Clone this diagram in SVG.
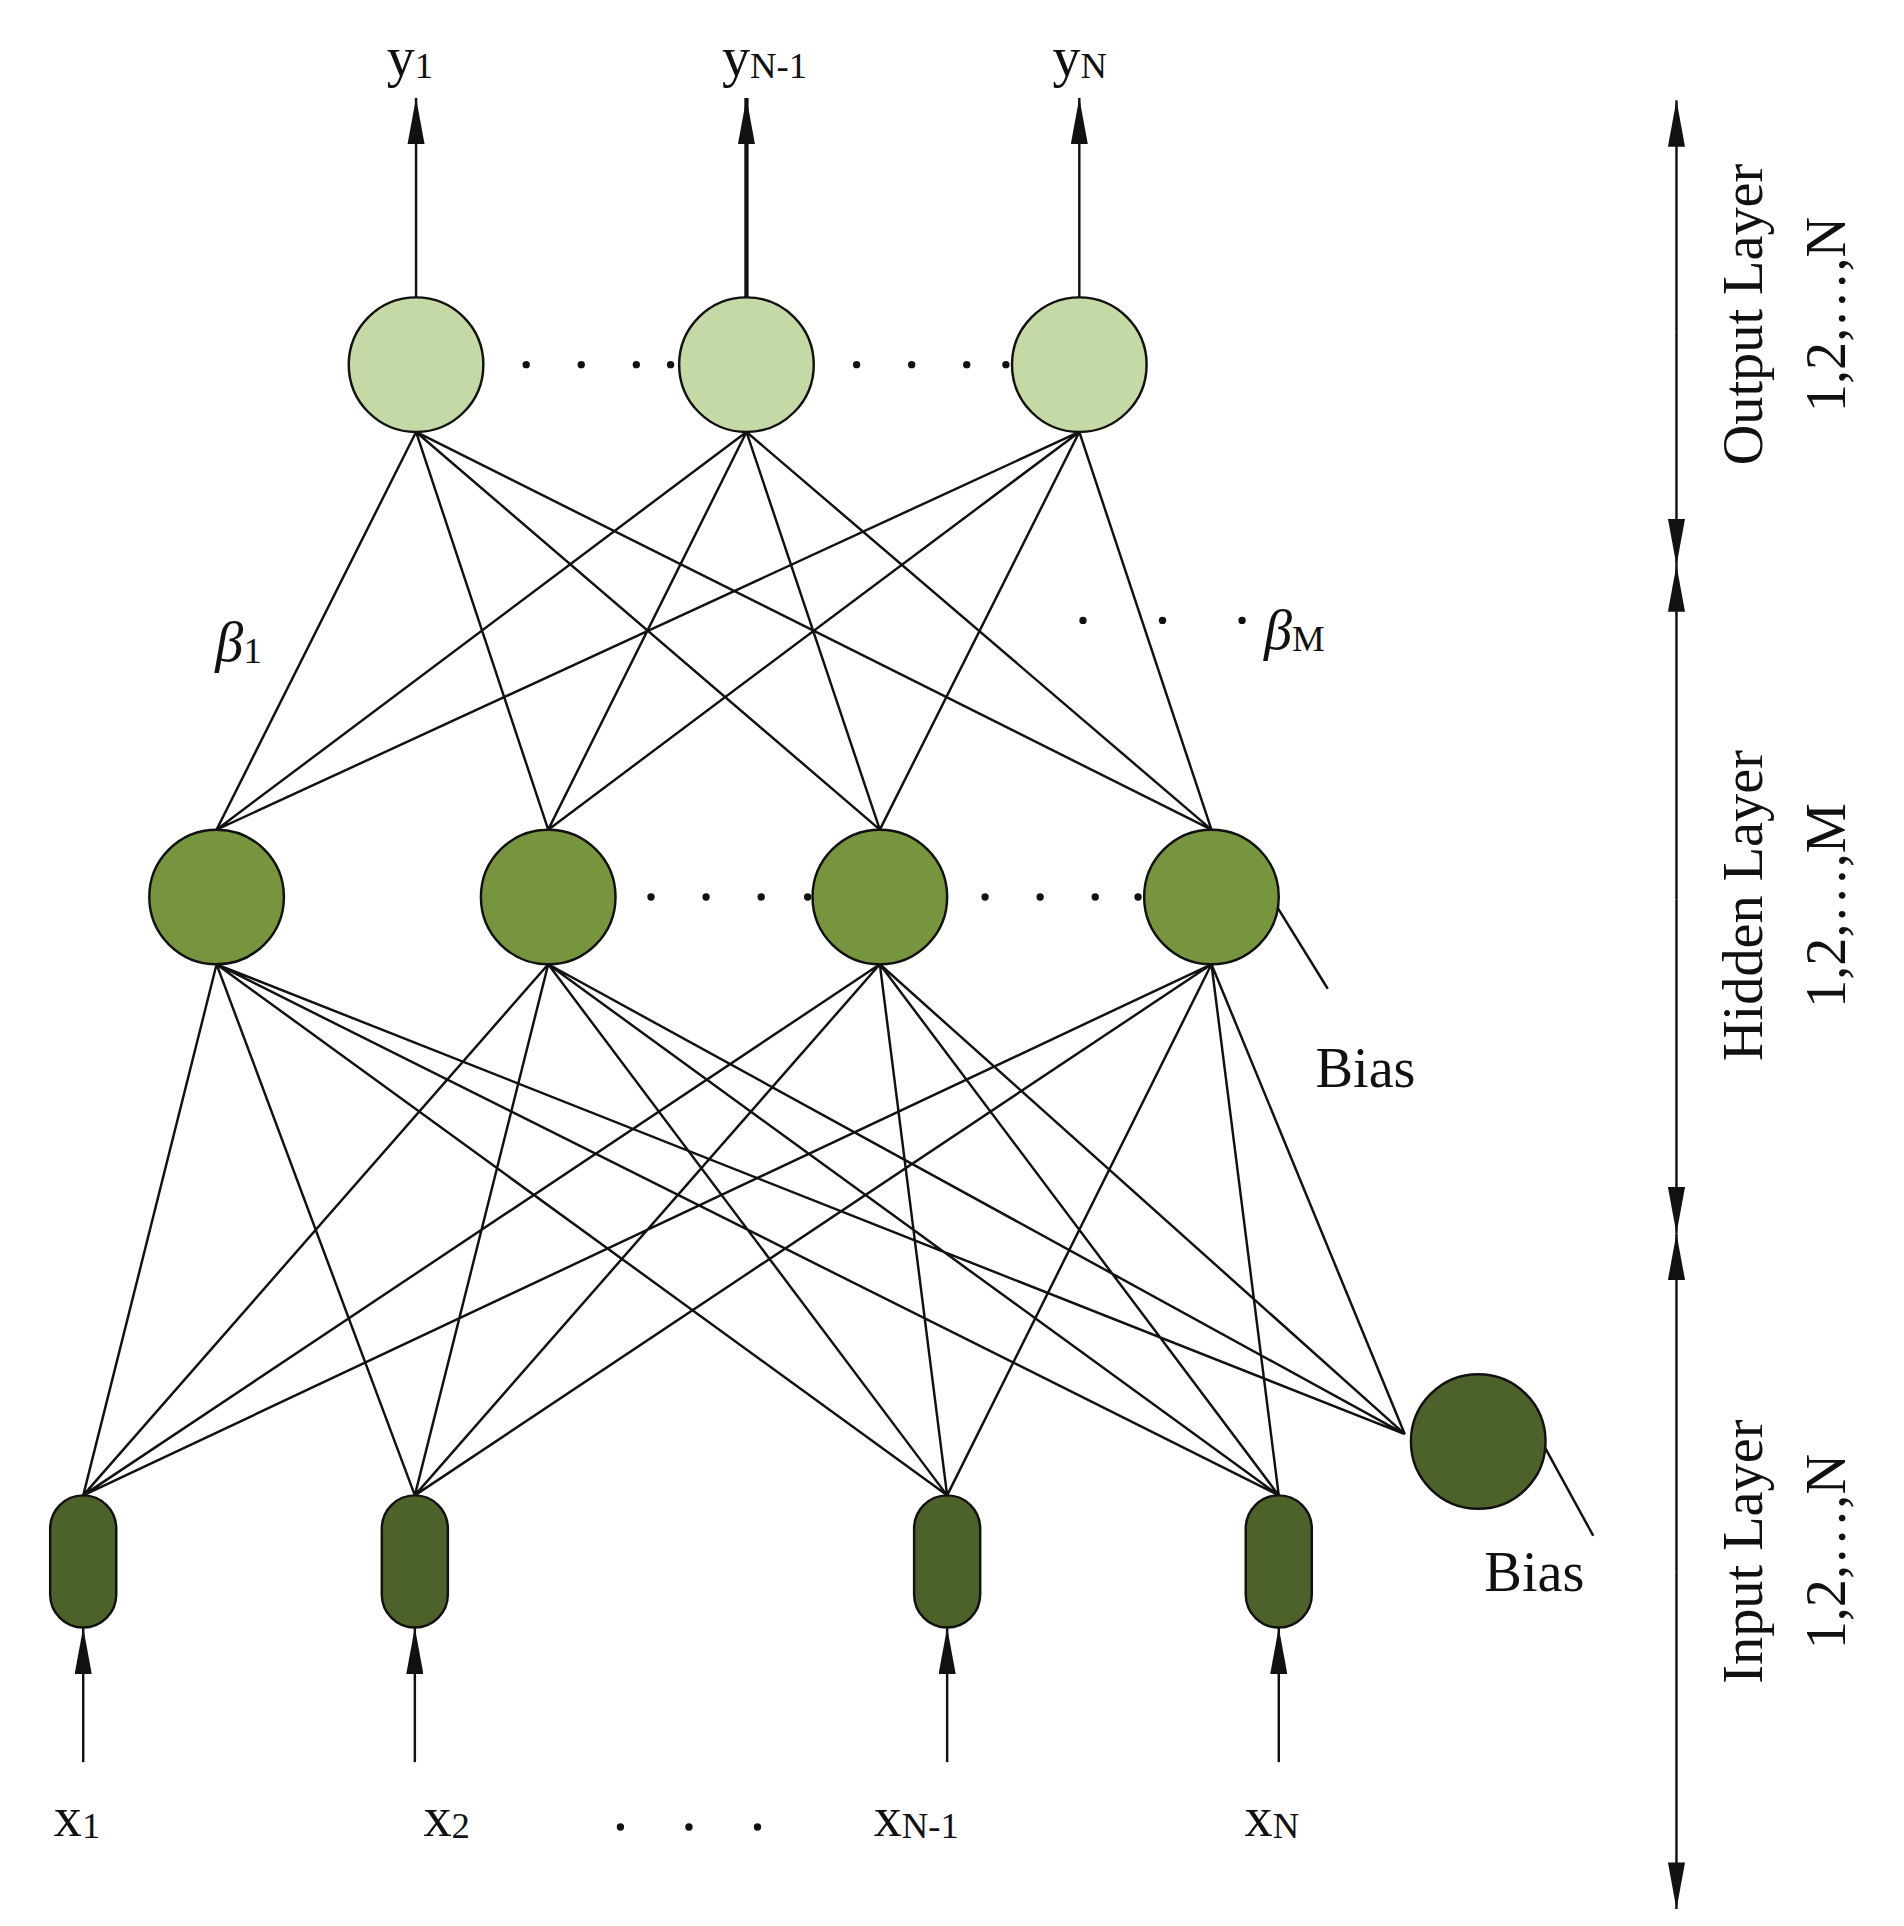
<svg xmlns="http://www.w3.org/2000/svg" width="1904" height="1926" viewBox="0 0 1904 1926">
<defs>
<marker id="ah" viewBox="0 0 10 10" refX="10" refY="5" markerWidth="12" markerHeight="12" markerUnits="userSpaceOnUse" orient="auto"><path d="M0,0 L10,5 L0,10 z" fill="#111"/></marker>
<marker id="ah2" viewBox="0 0 10 10" refX="10" refY="5" markerWidth="38" markerHeight="14" markerUnits="userSpaceOnUse" orient="auto" preserveAspectRatio="none"><path d="M0,0 L10,5 L0,10 z" fill="#111"/></marker>
</defs>
<style>
.t{font-family:"Liberation Serif",serif;fill:#111;font-size:46px}
.s{font-size:30px}
.ln{stroke:#111;stroke-width:2;fill:none}
.o{fill:#c5d9a7;stroke:#111;stroke-width:2}
.h{fill:#77953f;stroke:#111;stroke-width:2}
.i{fill:#4d612b;stroke:#111;stroke-width:2}
.d{fill:#111}
</style>
<rect width="1904" height="1926" fill="#fff"/>
<g transform="scale(1.2237)">
<g id="connectors" class="ln">
<path d="M340,353L177,678M340,353L448,678M340,353L719,678M340,353L990,678M610,353L177,678M610,353L448,678M610,353L719,678M610,353L990,678M882,353L177,678M882,353L448,678M882,353L719,678M882,353L990,678"/>
<path d="M177,788L68,1222M177,788L339,1222M177,788L774,1222M177,788L1045,1222M177,788L1148,1172M448,788L68,1222M448,788L339,1222M448,788L774,1222M448,788L1045,1222M448,788L1148,1172M719,788L68,1222M719,788L339,1222M719,788L774,1222M719,788L1045,1222M719,788L1148,1172M990,788L68,1222M990,788L339,1222M990,788L774,1222M990,788L1045,1222M990,788L1148,1172"/>
<line x1="340" y1="243" x2="340" y2="80" marker-end="url(#ah2)"/>
<line x1="610" y1="243" x2="610" y2="80" stroke-width="3.5" marker-end="url(#ah2)"/>
<line x1="882" y1="243" x2="882" y2="80" marker-end="url(#ah2)"/>
<line x1="68" y1="1440" x2="68" y2="1330" marker-end="url(#ah2)"/>
<line x1="339" y1="1440" x2="339" y2="1330" marker-end="url(#ah2)"/>
<line x1="774" y1="1440" x2="774" y2="1330" marker-end="url(#ah2)"/>
<line x1="1045" y1="1440" x2="1045" y2="1330" marker-end="url(#ah2)"/>
<line x1="1043" y1="740" x2="1085" y2="808"/>
<line x1="1262" y1="1182" x2="1302" y2="1255"/>
<line x1="1370" y1="272" x2="1370" y2="82" marker-end="url(#ah2)"/>
<line x1="1370" y1="272" x2="1370" y2="462" marker-end="url(#ah2)"/>
<line x1="1370" y1="735" x2="1370" y2="462" marker-end="url(#ah2)"/>
<line x1="1370" y1="735" x2="1370" y2="1008" marker-end="url(#ah2)"/>
<line x1="1370" y1="1284" x2="1370" y2="1008" marker-end="url(#ah2)"/>
<line x1="1370" y1="1284" x2="1370" y2="1560" marker-end="url(#ah2)"/>
</g>
<g id="out1"><circle class="o" cx="340" cy="298" r="55"/><text class="t" x="316" y="62">y<tspan class="s" dy="2">1</tspan></text></g>
<g id="out2"><circle class="o" cx="610" cy="298" r="55"/><text class="t" x="590" y="62">y<tspan class="s" dy="2">N-1</tspan></text></g>
<g id="out3"><circle class="o" cx="882" cy="298" r="55"/><text class="t" x="860" y="62">y<tspan class="s" dy="2">N</tspan></text></g>
<g id="hid1"><circle class="h" cx="177" cy="733" r="55"/></g>
<g id="hid2"><circle class="h" cx="448" cy="733" r="55"/></g>
<g id="hid3"><circle class="h" cx="719" cy="733" r="55"/></g>
<g id="hid4"><circle class="h" cx="990" cy="733" r="55"/></g>
<g id="in1"><rect class="i" x="41" y="1222" width="54" height="108" rx="27"/><text class="t" x="44" y="1500">x<tspan class="s" dy="2">1</tspan></text></g>
<g id="in2"><rect class="i" x="312" y="1222" width="54" height="108" rx="27"/><text class="t" x="346" y="1500">x<tspan class="s" dy="2">2</tspan></text></g>
<g id="in3"><rect class="i" x="747" y="1222" width="54" height="108" rx="27"/><text class="t" x="714" y="1500">x<tspan class="s" dy="2">N-1</tspan></text></g>
<g id="in4"><rect class="i" x="1018" y="1222" width="54" height="108" rx="27"/><text class="t" x="1017" y="1500">x<tspan class="s" dy="2">N</tspan></text></g>
<g id="bias2"><circle class="i" cx="1208" cy="1178" r="55"/><text class="t" x="1213" y="1300">Bias</text></g>
<g id="bias1"><text class="t" x="1075" y="888">Bias</text></g>
<g id="dots">
<circle class="d" cx="430" cy="298" r="3"/><circle class="d" cx="475" cy="298" r="3"/><circle class="d" cx="520" cy="298" r="3"/><circle class="d" cx="548" cy="298" r="3"/>
<circle class="d" cx="700" cy="298" r="3"/><circle class="d" cx="745" cy="298" r="3"/><circle class="d" cx="790" cy="298" r="3"/><circle class="d" cx="822" cy="298" r="3"/>
<circle class="d" cx="532" cy="733" r="3"/><circle class="d" cx="577" cy="733" r="3"/><circle class="d" cx="622" cy="733" r="3"/><circle class="d" cx="660" cy="733" r="3"/>
<circle class="d" cx="805" cy="733" r="3"/><circle class="d" cx="850" cy="733" r="3"/><circle class="d" cx="895" cy="733" r="3"/><circle class="d" cx="930" cy="733" r="3"/>
<circle class="d" cx="885" cy="507" r="3"/><circle class="d" cx="950" cy="507" r="3"/><circle class="d" cx="1015" cy="507" r="3"/>
<circle class="d" cx="507" cy="1493" r="3"/><circle class="d" cx="563" cy="1493" r="3"/><circle class="d" cx="619" cy="1493" r="3"/>
</g>
<g id="betas">
<text class="t" x="176" y="540" font-style="italic">β<tspan class="s" font-style="normal" dy="2">1</tspan></text>
<text class="t" x="1033" y="530" font-style="italic">β<tspan class="s" font-style="normal" dy="2">M</tspan></text>
</g>
<g id="layers">
<text class="t" text-anchor="middle" transform="translate(1440,257) rotate(-90)">Output Layer</text>
<text class="t" text-anchor="middle" transform="translate(1508,257) rotate(-90)">1,2,…,N</text>
<text class="t" text-anchor="middle" transform="translate(1440,740) rotate(-90)">Hidden Layer</text>
<text class="t" text-anchor="middle" transform="translate(1508,740) rotate(-90)">1,2,…,M</text>
<text class="t" text-anchor="middle" transform="translate(1440,1268) rotate(-90)">Input Layer</text>
<text class="t" text-anchor="middle" transform="translate(1508,1268) rotate(-90)">1,2,…,N</text>
</g>
</g>
</svg>
